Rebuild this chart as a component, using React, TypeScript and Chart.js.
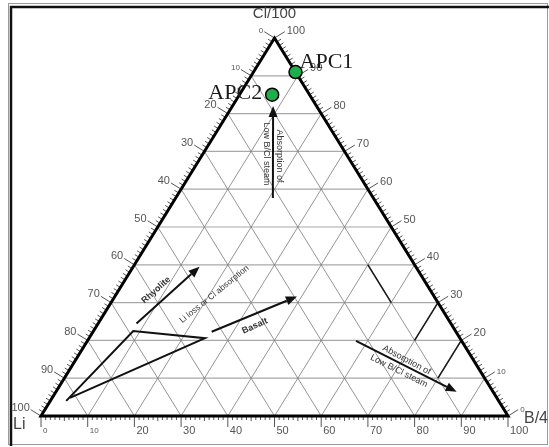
import React, { useEffect, useRef } from 'react';
import { Chart, registerables } from 'chart.js';
Chart.register(...registerables);

// Sample points (ternary %: Li, Cl/100, B/4)
const pointNames = ['APC1', 'APC2'];
const pointLi = [0, 8];
const pointCl = [91, 85];
const pointB = [9, 7];

// Grid and tick values
const gridValues = [10, 20, 30, 40, 50, 60, 70, 80, 90];
const tickLabels = [0, 10, 20, 30, 40, 50, 60, 70, 80, 90, 100];

// Dark field boundary segments [li, cl, b]
const darkSegStart = [[10, 40, 50], [0, 30, 70], [0, 20, 80]];
const darkSegEnd = [[10, 30, 60], [10, 20, 70], [10, 10, 80]];

// Wedge outline (polyline) [li, cl, b]
const wedgeLi = [92.6, 69.0, 54.6, 91.4];
const wedgeCl = [4.0, 22.5, 20.6, 4.8];
const wedgeB = [3.4, 8.5, 24.8, 3.8];

// Arrows: start and end [li, cl, b]
const arrowStart = [[67.3, 24.5, 8.2], [52.3, 22.3, 25.4], [21.5, 57.7, 20.8], [22.6, 19.9, 57.5]];
const arrowEnd = [[46.3, 39.5, 14.2], [29.4, 31.6, 39.0], [9.3, 82.0, 8.7], [7.8, 6.4, 85.8]];

// Annotation texts anchored in ternary coords [li, cl, b]
const noteTexts = ['Rhyolite', 'Li loss or Cl absorption', 'Basalt', 'Absorption of', 'Low B/Cl steam', 'Absorption of', 'Low B/Cl steam'];
const notePos = [[58.7, 33.3, 8.0], [46.8, 32.2, 21.0], [42.3, 23.8, 33.9], [14.6, 68.8, 16.6], [17.0, 69.3, 13.7], [14.3, 14.8, 70.9], [17.4, 11.9, 70.7]];
const noteAngle = [-42, -39, -24, 90, 90, 28, 26.5];
const noteFont = ['bold 9px', '8.5px', 'bold 9px', '9px', '9px', '9px', '9px'];

const toXY = (li: number, cl: number, b: number) => {
  const s = li + cl + b;
  const c = (cl / s) * 100;
  const bb = (b / s) * 100;
  return { x: bb + c / 2, y: c };
};

const ternaryPlugin = {
  id: 'ternary',
  beforeDatasetsDraw(chart: any) {
    const ctx = chart.ctx as CanvasRenderingContext2D;
    const xs = chart.scales.x;
    const ys = chart.scales.y;
    const P = (li: number, cl: number, b: number) => {
      const p = toXY(li, cl, b);
      return { x: xs.getPixelForValue(p.x), y: ys.getPixelForValue(p.y) };
    };
    const line = (a: any, b: any) => {
      ctx.beginPath();
      ctx.moveTo(a.x, a.y);
      ctx.lineTo(b.x, b.y);
      ctx.stroke();
    };
    ctx.save();
    // frame
    ctx.strokeStyle = '#9a9a9a';
    ctx.lineWidth = 1;
    ctx.strokeRect(8.5, 3.5, 539, 441);
    ctx.strokeStyle = '#111';
    ctx.lineWidth = 2.5;
    ctx.beginPath();
    ctx.moveTo(11, 446);
    ctx.lineTo(11, 7);
    ctx.lineTo(549, 7);
    ctx.stroke();

    // grid: horizontal (Cl const)
    ctx.strokeStyle = '#a8a8a8';
    ctx.lineWidth = 1.2;
    gridValues.forEach((v) => line(P(100 - v, v, 0), P(0, v, 100 - v)));
    // diagonals
    ctx.strokeStyle = '#7a7a7a';
    ctx.lineWidth = 0.8;
    gridValues.forEach((v) => {
      line(P(100 - v, 0, v), P(0, 100 - v, v)); // B const
      line(P(v, 0, 100 - v), P(v, 100 - v, 0)); // Li const
    });
    // dark segments
    ctx.strokeStyle = '#1a1a1a';
    ctx.lineWidth = 1.6;
    darkSegStart.forEach((s, i) => {
      const e = darkSegEnd[i];
      line(P(s[0], s[1], s[2]), P(e[0], e[1], e[2]));
    });

    // triangle
    const A = P(100, 0, 0);
    const B = P(0, 0, 100);
    const C = P(0, 100, 0);
    const G = { x: (A.x + B.x + C.x) / 3, y: (A.y + B.y + C.y) / 3 };
    const normal = (p1: any, p2: any) => {
      let nx = -(p2.y - p1.y);
      let ny = p2.x - p1.x;
      const l = Math.hypot(nx, ny);
      nx /= l; ny /= l;
      const mx = (p1.x + p2.x) / 2, my = (p1.y + p2.y) / 2;
      if ((G.x - mx) * nx + (G.y - my) * ny > 0) { nx = -nx; ny = -ny; }
      return { x: nx, y: ny };
    };
    const nLeft = normal(A, C);
    const nRight = normal(B, C);

    // ticks
    ctx.strokeStyle = '#555';
    ctx.lineWidth = 1;
    for (let k = 0; k <= 100; k++) {
      const len = k % 10 === 0 ? 12 : 5;
      const pl = P(k, 100 - k, 0);
      line(pl, { x: pl.x + nLeft.x * len, y: pl.y + nLeft.y * len });
      const pr = P(0, k, 100 - k);
      line(pr, { x: pr.x + nRight.x * len, y: pr.y + nRight.y * len });
      const bl = k % 10 === 0 ? 11 : k % 5 === 0 ? 5 : 4;
      const pb = P(100 - k, 0, k);
      line(pb, { x: pb.x, y: pb.y + bl });
    }
    // tick labels
    ctx.fillStyle = '#555';
    tickLabels.forEach((k) => {
      const small = k === 0 || k === 10;
      ctx.font = (small ? '8px' : '11px') + ' "Liberation Sans", Arial, sans-serif';
      // left (Li)
      const pl = P(k, 100 - k, 0);
      ctx.textAlign = 'right';
      ctx.textBaseline = 'alphabetic';
      ctx.fillText(String(k), pl.x + nLeft.x * 12 - 1, pl.y + nLeft.y * 12 + 1);
      // right (Cl)
      const pr = P(0, k, 100 - k);
      ctx.textAlign = 'left';
      ctx.fillText(String(k), pr.x + nRight.x * 12 + 2, pr.y + nRight.y * 12 + 2);
      // bottom (B)
      const pb = P(100 - k, 0, k);
      ctx.textBaseline = 'middle';
      ctx.fillText(String(k), pb.x + 2, pb.y + 15);
    });

    ctx.strokeStyle = '#000';
    ctx.lineWidth = 3;
    ctx.lineJoin = 'miter';
    ctx.beginPath();
    ctx.moveTo(A.x, A.y);
    ctx.lineTo(B.x, B.y);
    ctx.lineTo(C.x, C.y);
    ctx.closePath();
    ctx.stroke();

    // wedge
    ctx.lineWidth = 2;
    ctx.strokeStyle = '#111';
    ctx.beginPath();
    wedgeLi.forEach((li, i) => {
      const p = P(li, wedgeCl[i], wedgeB[i]);
      if (i === 0) ctx.moveTo(p.x, p.y); else ctx.lineTo(p.x, p.y);
    });
    ctx.stroke();

    // arrows
    arrowStart.forEach((s, i) => {
      const e = arrowEnd[i];
      const a = P(s[0], s[1], s[2]);
      const b = P(e[0], e[1], e[2]);
      const ang = Math.atan2(b.y - a.y, b.x - a.x);
      const hl = 11, hw = 4.5;
      const bx = b.x - Math.cos(ang) * hl, by = b.y - Math.sin(ang) * hl;
      ctx.lineWidth = 2;
      ctx.strokeStyle = '#111';
      ctx.beginPath();
      ctx.moveTo(a.x, a.y);
      ctx.lineTo(bx, by);
      ctx.stroke();
      ctx.fillStyle = '#111';
      ctx.beginPath();
      ctx.moveTo(b.x, b.y);
      ctx.lineTo(bx - Math.sin(ang) * hw, by + Math.cos(ang) * hw);
      ctx.lineTo(bx + Math.sin(ang) * hw, by - Math.cos(ang) * hw);
      ctx.closePath();
      ctx.fill();
    });

    // notes
    noteTexts.forEach((t, i) => {
      const p = P(notePos[i][0], notePos[i][1], notePos[i][2]);
      ctx.save();
      ctx.translate(p.x, p.y);
      ctx.rotate((noteAngle[i] * Math.PI) / 180);
      ctx.font = noteFont[i] + ' "Liberation Sans", Arial, sans-serif';
      ctx.fillStyle = '#333';
      ctx.textAlign = 'center';
      ctx.textBaseline = 'middle';
      ctx.fillText(t, 0, 0);
      ctx.restore();
    });

    // corner titles
    ctx.fillStyle = '#444';
    ctx.font = '15px "Liberation Sans", Arial, sans-serif';
    ctx.textAlign = 'center';
    ctx.textBaseline = 'middle';
    ctx.fillText('Cl/100', C.x, C.y - 24);
    ctx.font = '16px "Liberation Sans", Arial, sans-serif';
    ctx.textAlign = 'left';
    ctx.fillText('Li', A.x - 28, A.y + 9);
    ctx.fillText('B/4', B.x + 16, B.y + 3);
    ctx.restore();
  },
  afterDatasetsDraw(chart: any) {
    const ctx = chart.ctx as CanvasRenderingContext2D;
    const meta = chart.getDatasetMeta(0);
    ctx.save();
    ctx.fillStyle = '#1a1a1a';
    ctx.font = '22px "Liberation Serif", "Times New Roman", serif';
    ctx.textBaseline = 'alphabetic';
    meta.data.forEach((el: any, i: number) => {
      if (i === 0) {
        ctx.textAlign = 'left';
        ctx.fillText(pointNames[i], el.x + 4, el.y - 4);
      } else {
        ctx.textAlign = 'right';
        ctx.fillText(pointNames[i], el.x - 10, el.y + 4);
      }
    });
    ctx.restore();
  },
};

export default function App() {
  const ref = useRef<HTMLCanvasElement>(null);
  useEffect(() => {
    if (!ref.current) return;
    const chart = new Chart(ref.current, {
      type: 'scatter',
      data: {
        datasets: [
          {
            data: pointNames.map((_, i) => toXY(pointLi[i], pointCl[i], pointB[i])),
            pointRadius: 6.5,
            pointBackgroundColor: '#1fae4c',
            pointBorderColor: '#000',
            pointBorderWidth: 1.5,
          },
        ],
      },
      options: {
        responsive: false,
        animation: false,
        devicePixelRatio: 1,
        layout: { padding: { left: 41, right: 41, top: 38, bottom: 31 } },
        scales: {
          x: { type: 'linear', min: 0, max: 100, display: false },
          y: { type: 'linear', min: 0, max: 100, display: false },
        },
        plugins: { legend: { display: false }, tooltip: { enabled: false } },
      },
      plugins: [ternaryPlugin],
    });
    return () => chart.destroy();
  }, []);
  return (
    <div style={{ position: 'fixed', left: 0, top: 0, width: 549, height: 447, background: '#fff' }}>
      <canvas ref={ref} width={549} height={447} />
    </div>
  );
}
